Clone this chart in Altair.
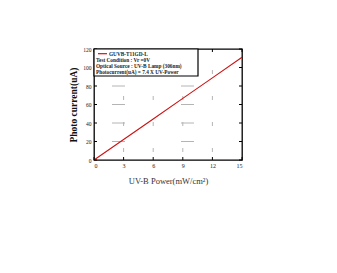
import altair as alt
import pandas as pd

# ---- data ----
power = [0, 3, 6, 9, 12, 15]
current = [0, 22.2, 44.4, 66.6, 88.8, 111.0]
x_ticks = [0, 3, 6, 9, 12, 15]
y_ticks = [0, 20, 40, 60, 80, 100, 120]
x_grid = [3, 6, 9, 12]
y_grid = [20, 40, 60, 80, 100]
series_name = "GUVB-T11GD-L"
legend_notes = [
    "Test Condition : Vr =0V",
    "Optical Source : UV-B Lamp (306nm)",
    "Photocurrent(uA) = 7.4 X UV-Power",
]

W, H = 148, 111
FONT = "Liberation Serif"
RED = "#cc1111"
GRID = "#b4b4b4"

xs = alt.Scale(domain=[0, 15], nice=False, zero=False)
ys = alt.Scale(domain=[0, 120], nice=False, zero=False)

xa = alt.Axis(
    values=x_ticks, title="UV-B Power(mW/cm²)", grid=False, ticks=False, domain=False,
    labelFont=FONT, labelFontSize=6, labelColor="#222", labelPadding=2,
    titleFont=FONT, titleFontSize=8.5, titleFontWeight="normal", titleColor="#333", titlePadding=8)
ya = alt.Axis(
    values=y_ticks, title="Photo current(uA)", grid=False, ticks=False, domain=False,
    labelFont=FONT, labelFontSize=5.5, labelColor="#222", labelPadding=3,
    titleFont=FONT, titleFontSize=9.5, titleFontWeight="bold", titleColor="#111", titlePadding=4)

df_line = pd.DataFrame({"p": power, "c": current})
df_xt = pd.DataFrame({"p": x_ticks})
df_yt = pd.DataFrame({"c": y_ticks})
df_xg = pd.DataFrame({"p": x_grid})
df_yg = pd.DataFrame({"c": y_grid})
one = pd.DataFrame({"k": [0]})

X = alt.X("p:Q", scale=xs, axis=xa)
Y = alt.Y("c:Q", scale=ys, axis=ya)

grid_v = alt.Chart(df_xg).mark_rule(color=GRID, strokeWidth=1, strokeDash=[4, 22], strokeDashOffset=18).encode(
    x=X, y=alt.value(H), y2=alt.value(0))
grid_h = alt.Chart(df_yg).mark_rule(color=GRID, strokeWidth=1, strokeDash=[13, 56], strokeDashOffset=51).encode(
    y=Y, x=alt.value(0), x2=alt.value(W))

line = alt.Chart(df_line).mark_line(color=RED, strokeWidth=1.1).encode(x=X, y=Y)

tk = dict(color="black", strokeWidth=1)
tick_b = alt.Chart(df_xt).mark_rule(**tk).encode(x=X, y=alt.value(H), y2=alt.value(H - 3))
tick_t = alt.Chart(df_xt).mark_rule(**tk).encode(x=X, y=alt.value(0), y2=alt.value(3))
tick_l = alt.Chart(df_yt).mark_rule(**tk).encode(y=Y, x=alt.value(0), x2=alt.value(3))
tick_r = alt.Chart(df_yt).mark_rule(**tk).encode(y=Y, x=alt.value(W), x2=alt.value(W - 3))

box = alt.Chart(one).mark_rect(fill="white", stroke="black", strokeWidth=1.2).encode(
    x=alt.value(0), x2=alt.value(104), y=alt.value(0), y2=alt.value(27))
sym = alt.Chart(one).mark_rule(color=RED, strokeWidth=1.2).encode(
    x=alt.value(4), x2=alt.value(13), y=alt.value(4.7))
txt_style = dict(font=FONT, fontSize=5.3, fontWeight="bold", color="#222", align="left", baseline="middle")
t0 = alt.Chart(one).mark_text(text=series_name, **txt_style).encode(x=alt.value(15), y=alt.value(4.9))
t1 = alt.Chart(one).mark_text(text=legend_notes[0], **txt_style).encode(x=alt.value(2), y=alt.value(11.2))
t2 = alt.Chart(one).mark_text(text=legend_notes[1], **txt_style).encode(x=alt.value(2), y=alt.value(17))
t3 = alt.Chart(one).mark_text(text=legend_notes[2], **txt_style).encode(x=alt.value(2), y=alt.value(23))

chart = alt.layer(grid_v, grid_h, line, tick_b, tick_t, tick_l, tick_r, box, sym, t0, t1, t2, t3).properties(
    width=W, height=H,
    autosize=alt.AutoSizeParams(type="none"),
    padding={"left": 94, "top": 49, "right": 95, "bottom": 113},
    background="white",
).configure_view(stroke="black", strokeWidth=1.3)

chart.save("out.html", embed_options={"renderer": "svg", "actions": False})
